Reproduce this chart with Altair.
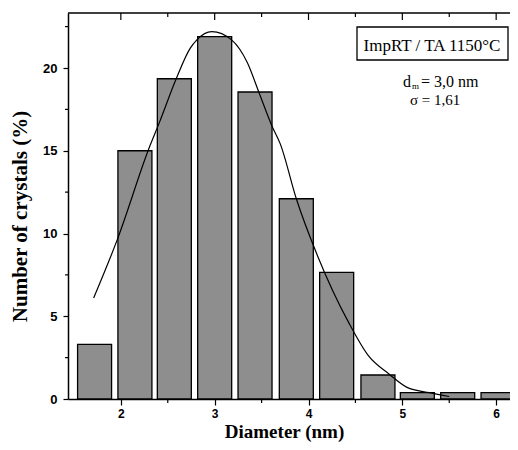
import altair as alt
import pandas as pd

# Histogram bins (bin centres, nm) and percentages
centers = [1.72, 2.15, 2.57, 3.00, 3.43, 3.87, 4.30, 4.74, 5.16, 5.59, 6.02]
pct = [3.3, 15.0, 19.35, 21.9, 18.55, 12.1, 7.65, 1.45, 0.38, 0.38, 0.38]

# Fitted curve
fit_d = [1.71, 1.96, 2.31, 2.41, 2.59, 2.74, 2.81, 2.97, 3.18, 3.35, 3.47,
         3.61, 3.70, 3.87, 4.10, 4.43, 4.64, 4.86, 5.05, 5.29, 5.50]
fit_v = [6.1, 9.6, 15.3, 16.7, 19.35, 21.2, 21.7, 22.2, 21.7, 20.3, 18.55,
         16.5, 15.4, 12.1, 8.6, 4.6, 2.6, 1.5, 0.7, 0.38, 0.15]

# Axis ticks
x_major = [2, 3, 4, 5, 6]
x_minor = [2.5, 3.5, 4.5, 5.5]
y_major = [0, 5, 10, 15, 20]
y_minor = [2.5, 7.5, 12.5, 17.5, 22.5]

# Texts
x_title = "Diameter (nm)"
y_title = "Number of crystals (%)"
box_text = "ImpRT / TA 1150°C"
dm_text = "d"
dm_sub = "m"
dm_rest = "= 3,0 nm"
sigma_text = "σ = 1,61"

bars_df = pd.DataFrame({"d": centers, "p": pct})
fit_df = pd.DataFrame({"d": fit_d, "v": fit_v})
xmaj_df = pd.DataFrame({"d": x_major})
xmin_df = pd.DataFrame({"d": x_minor})
ymin_df = pd.DataFrame({"p": y_minor})

W, H = 442, 386
xs = alt.Scale(domain=[1.49, 1.49 + W / 96.0], nice=False, zero=False)
ys = alt.Scale(domain=[0, H / 16.55], nice=False, zero=True)

LABEL_FONT = "Liberation Sans Narrow, Liberation Sans, Arial, sans-serif"
SERIF = "Liberation Serif, Times New Roman, serif"

x_axis = alt.Axis(
    values=x_major, format="d", tickSize=6, labelPadding=3, labelFontSize=12,
    title=x_title, titleX=216, titleY=38, titleBaseline="alphabetic",
    titleAlign="center", titleFontSize=19, grid=False)
y_axis = alt.Axis(
    values=y_major, format="d", tickSize=5, labelPadding=6, labelFontSize=13,
    title=y_title, titleAngle=270, titleX=-42, titleY=203,
    titleBaseline="alphabetic", titleAlign="center", titleFontSize=21, grid=False)

bars = alt.Chart(bars_df).mark_bar(
    size=34, fill="#8e8e8e", stroke="black", strokeWidth=1.3, clip=True
).encode(
    x=alt.X("d:Q", scale=xs, axis=x_axis),
    y=alt.Y("p:Q", scale=ys, axis=y_axis),
)

curve = alt.Chart(fit_df).mark_line(
    color="black", strokeWidth=1.2, interpolate="monotone", clip=True
).encode(
    x=alt.X("d:Q", scale=xs, axis=x_axis),
    y=alt.Y("v:Q", scale=ys, axis=y_axis),
)

def xticks(df, y1, y2):
    return alt.Chart(df).mark_rule(color="black", strokeWidth=1.2).encode(
        x=alt.X("d:Q", scale=xs, axis=x_axis),
        y=alt.value(y1), y2=alt.value(y2))

def yticks(df, x1, x2):
    return alt.Chart(df).mark_rule(color="black", strokeWidth=1.2).encode(
        y=alt.Y("p:Q", scale=ys, axis=y_axis),
        x=alt.value(x1), x2=alt.value(x2))

top_major = xticks(xmaj_df, 0, 7)
top_minor = xticks(xmin_df, 0, 4)
bot_minor = xticks(xmin_df, H, H + 4)
left_minor = yticks(ymin_df, 0, -3)

top_line = alt.Chart(pd.DataFrame({"t": [x_title]})).mark_rule(
    color="black", strokeWidth=1.5
).encode(x=alt.value(0), x2=alt.value(W), y=alt.value(0))

box = alt.Chart(pd.DataFrame({"t": [box_text]})).mark_rect(
    fill="white", stroke="black", strokeWidth=1.3
).encode(x=alt.value(289), x2=alt.value(440), y=alt.value(14), y2=alt.value(47))

box_label = alt.Chart(pd.DataFrame({"t": [box_text]})).mark_text(
    font=SERIF, fontSize=17, align="center", baseline="alphabetic", color="black"
).encode(x=alt.value(364), y=alt.value(38), text="t:N")

def txt(s, x, y, size=16):
    return alt.Chart(pd.DataFrame({"t": [s]})).mark_text(
        font=SERIF, fontSize=size, align="left", baseline="alphabetic", color="black"
    ).encode(x=alt.value(x), y=alt.value(y), text="t:N")

dm1 = txt(dm_text, 335, 74)
dm2 = txt(dm_sub, 344, 76, 9)
dm3 = txt(dm_rest, 353, 74)
sig = txt(sigma_text, 342, 92, 15)

chart = alt.layer(
    bars, curve, top_major, top_minor, bot_minor, left_minor, top_line,
    box, box_label, dm1, dm2, dm3, sig
).properties(
    width=W, height=H,
    autosize=alt.AutoSizeParams(type="none"),
    padding={"left": 60, "top": 5, "right": 0, "bottom": 43},
    background="white",
).configure_view(
    stroke=None
).configure_axis(
    domainColor="black", domainWidth=1.5, tickColor="black", tickWidth=1.2,
    labelFont=LABEL_FONT, labelFontWeight="bold", labelColor="black",
    titleFont=SERIF, titleFontWeight="bold", titleColor="black",
)

chart.save("out.html", embed_options={"renderer": "svg", "actions": False})
